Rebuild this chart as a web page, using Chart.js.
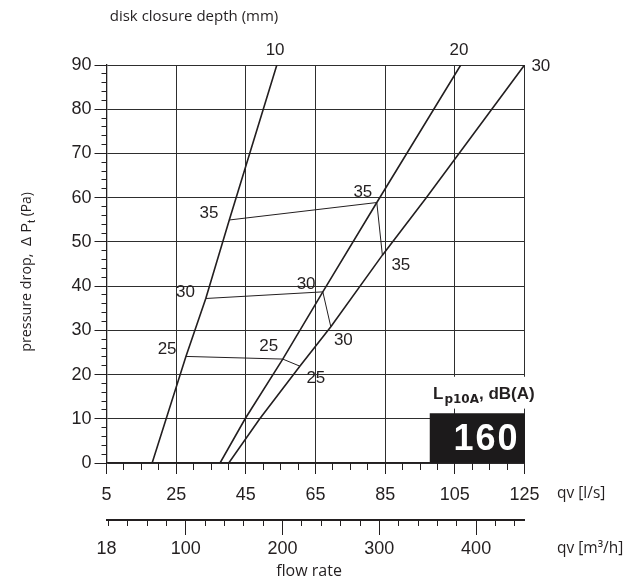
<!DOCTYPE html>
<html>
<head>
<meta charset="utf-8">
<script src="https://cdn.jsdelivr.net/npm/chart.js@4.4.1/dist/chart.umd.min.js"></script>
<style>
  html, body { margin: 0; padding: 0; background: #fff; }
  #wrap { width: 639px; height: 581px; position: relative; }
</style>
</head>
<body>
<div id="wrap"><canvas id="c"></canvas></div>
<script>
// flow rate qv [l/s] , pressure drop [Pa] — one curve per disk closure depth (mm)
const depth10 = [[18.1, 0], [27.8, 24.1], [33.5, 37.2], [40.25, 54.95], [53.9, 90]]
const depth20 = [[37.6, 0], [44.8, 10], [55.6, 23.5], [67.1, 38.7], [82.6, 58.9], [106.7, 90]]
const depth30 = [[40.1, 0], [49.0, 10], [60.5, 21.9], [69.4, 30.8], [84.2, 47.0], [96.8, 60], [125, 90]]

// sound level isolines Lp10A dB(A)
const noise35 = [[40.25, 54.95], [82.6, 58.9], [84.2, 47.0]]
const noise30 = [[33.5, 37.2], [67.1, 38.7], [69.4, 30.8]]
const noise25 = [[27.8, 24.1], [55.6, 23.5], [60.5, 21.9]]

// text annotations placed at data coordinates [text, qv, dp]
const depthLabels = [['10', 53.4, 93.4], ['20', 106.2, 93.4], ['30', 129.7, 89.8]]
const noiseLabels = [
  ['35', 34.4, 56.4], ['35', 78.6, 61.2], ['35', 89.5, 44.7],
  ['30', 27.7, 38.7], ['30', 62.3, 40.5], ['30', 73.0, 27.8],
  ['25', 22.4, 25.7], ['25', 51.6, 26.3], ['25', 65.1, 19.2]
]

const lsTicks  = [5, 25, 45, 65, 85, 105, 125]
const m3hTicks = [18, 100, 200, 300, 400]
const dpTicks  = [0, 10, 20, 30, 40, 50, 60, 70, 80, 90]
const boxLevel = '160'

const ink = '#231f20'
const gridInk = '#2e2e2e'
const numFont = "'Liberation Sans', Arial, sans-serif"
const txtFont = "'Open Sans', 'Noto Sans', sans-serif"

const toXY = arr => arr.map(([x, y]) => ({ x, y }))
const line = (data, w) => ({
  data: toXY(data), showLine: true, borderColor: ink, borderWidth: w,
  pointRadius: 0, tension: 0, fill: false
})

const setTicks = list => s => { s.ticks = list.map(v => ({ value: v })) }

const annot = {
  id: 'annot',
  afterDraw(chart) {
    const { ctx, scales: { x, y } } = chart
    const px = v => x.getPixelForValue(v)
    const py = v => y.getPixelForValue(v)
    ctx.save()
    ctx.fillStyle = ink
    ctx.textBaseline = 'middle'
    ctx.textAlign = 'center'
    ctx.font = `17px ${numFont}`
    for (const [t, vx, vy] of depthLabels.concat(noiseLabels)) ctx.fillText(t, px(vx), py(vy))

    // legend box: white backing for the caption, black level box
    ctx.fillStyle = '#fff'
    ctx.fillRect(px(96.6), py(19.5), 120, py(12.3) - py(19.5))
    ctx.fillStyle = '#1c1a1b'
    ctx.fillRect(px(97.8), py(11.25), px(125) - px(97.8) + 0.5, py(0) - py(11.25) - 0.5)

    ctx.fillStyle = '#fff'
    ctx.textAlign = 'right'
    ctx.font = `bold 36px ${numFont}`
    ctx.letterSpacing = '2px'
    ctx.fillText(boxLevel, px(125) - 5, py(5.4) + 1)
    ctx.letterSpacing = '0px'

    ctx.fillStyle = ink
    ctx.textAlign = 'left'
    ctx.textBaseline = 'alphabetic'
    let cx = 433, base = 399
    ctx.font = `bold 17px ${numFont}`
    ctx.fillText('L', cx, base); cx += ctx.measureText('L').width + 1
    ctx.font = `bold 12px 'DejaVu Sans', sans-serif`
    ctx.fillText('p10A', cx, base + 4); cx += ctx.measureText('p10A').width
    ctx.font = `bold 17px ${numFont}`
    ctx.fillText(', dB(A)', cx, base)

    // titles
    ctx.textBaseline = 'middle'
    ctx.textAlign = 'center'
    ctx.font = `15px ${txtFont}`
    ctx.fillText('disk closure depth (mm)', 194, 17)
    ctx.font = `16px ${txtFont}`
    ctx.fillText('flow rate', 309, 571)
    ctx.textAlign = 'left'
    ctx.font = `15.5px ${txtFont}`
    ctx.fillText('qv [l/s]', 557, 494)
    ctx.fillText('qv [m³/h]', 557, 549)

    // rotated y title with subscript
    ctx.translate(27, 272)
    ctx.rotate(-Math.PI / 2)
    const parts = [
      ['pressure drop,  ', `14.3px ${txtFont}`, 0],
      ['Δ P', `14.3px ${numFont}`, 0],
      ['t', `11.5px ${numFont}`, 4.5],
      [' (Pa)', `13.8px ${txtFont}`, 0]
    ]
    let total = 0
    for (const p of parts) { ctx.font = p[1]; total += ctx.measureText(p[0]).width }
    let tx = -total / 2
    for (const p of parts) {
      ctx.font = p[1]
      ctx.fillText(p[0], tx, p[2])
      tx += ctx.measureText(p[0]).width
    }
    ctx.restore()
  }
}

new Chart(document.getElementById('c'), {
  type: 'scatter',
  data: {
    datasets: [
      line(depth10, 1.6), line(depth20, 1.6), line(depth30, 1.6),
      line(noise35, 1), line(noise30, 1), line(noise25, 1)
    ]
  },
  options: {
    responsive: true, maintainAspectRatio: false, animation: false,
    layout: { padding: { top: 65, right: 114.5, bottom: 0, left: 0 } },
    plugins: { legend: { display: false }, tooltip: { enabled: false } },
    scales: {
      y: {
        type: 'linear', position: 'left', weight: 1, min: 0, max: 90,
        afterBuildTicks: setTicks(dpTicks),
        ticks: { autoSkip: false, padding: 3, color: ink, font: { family: numFont, size: 18 } },
        grid: { color: gridInk, lineWidth: 1, tickLength: 12, tickColor: ink },
        border: { color: ink, width: 1.3 },
        afterFit: s => { s.width = 106.5 }
      },
      y2: {
        type: 'linear', position: 'left', weight: 0, min: 0, max: 90,
        ticks: { display: false, stepSize: 2, autoSkip: false },
        grid: { drawOnChartArea: false, tickLength: 5, color: ink },
        border: { display: false },
        afterFit: s => { s.width = 0 }
      },
      x: {
        type: 'linear', position: 'bottom', weight: 1, min: 5, max: 125,
        afterBuildTicks: setTicks(lsTicks),
        ticks: { autoSkip: false, maxRotation: 0, padding: 10, color: ink, font: { family: numFont, size: 18 } },
        grid: { color: gridInk, lineWidth: 1, tickLength: 11, tickColor: ink },
        border: { color: ink, width: 1.3 },
        afterFit: s => { s.height = 57 }
      },
      x2: {
        type: 'linear', position: 'bottom', weight: 0, min: 5, max: 125,
        ticks: { display: false, stepSize: 5, autoSkip: false },
        grid: { drawOnChartArea: false, tickLength: 7, color: ink },
        border: { display: false },
        afterFit: s => { s.height = 0 }
      },
      xm: {
        type: 'linear', position: 'bottom', weight: 3, min: 18, max: 450,
        afterBuildTicks: setTicks(m3hTicks),
        ticks: { autoSkip: false, maxRotation: 0, padding: 3, color: ink, font: { family: numFont, size: 18 } },
        grid: {
          drawOnChartArea: false, tickLength: 15, color: ink,
          tickColor: c => (c.tick && c.tick.value === 18) ? 'rgba(0,0,0,0)' : ink
        },
        border: { color: ink, width: 2 },
        afterFit: s => { s.height = 61 }
      },
      xm2: {
        type: 'linear', position: 'bottom', weight: 2, min: 18, max: 450,
        ticks: { display: false, stepSize: 20, includeBounds: false, autoSkip: false },
        grid: { drawOnChartArea: false, tickLength: 6, color: ink },
        border: { display: false },
        afterFit: s => { s.height = 0 }
      }
    }
  },
  plugins: [annot]
})
</script>
</body>
</html>
